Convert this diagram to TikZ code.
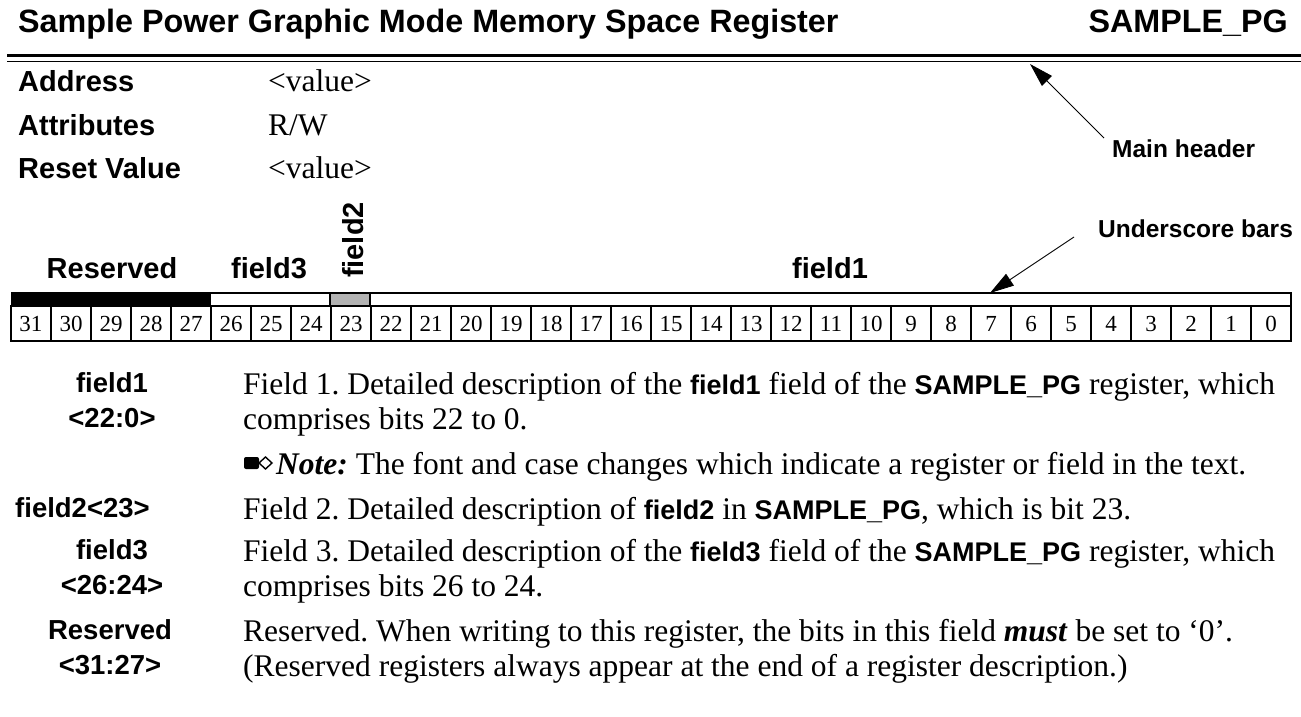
\documentclass[tikz,border=0pt]{standalone}
\usepackage{fontspec}
\setmainfont{Liberation Serif}
\setsansfont{Liberation Sans}
\usetikzlibrary{arrows.meta}
\newcommand{\sfb}[1]{{\fontsize{27}{30}\selectfont\sffamily\bfseries #1}}
\frenchspacing
\begin{document}
\begin{tikzpicture}[x=1pt,y=-1pt,
  title/.style={font=\fontsize{32.3}{36}\selectfont\sffamily\bfseries, inner sep=0pt},
  lab/.style={font=\fontsize{29}{32}\selectfont\sffamily\bfseries, inner sep=0pt},
  dlab/.style={font=\fontsize{27.5}{30}\selectfont\sffamily\bfseries, inner sep=0pt},
  clab/.style={font=\fontsize{24.5}{28}\selectfont\sffamily\bfseries, inner sep=0pt},
  body/.style={font=\fontsize{31.5}{35}\selectfont, inner sep=0pt, anchor=base west},
  bitnum/.style={font=\fontsize{23}{26}\selectfont, inner sep=0pt},
  cell/.style={draw=black, line width=1.2pt},
  callout/.style={line width=0.9pt, -{Triangle[length=24pt,width=14pt]}}]
\useasboundingbox (0,0) rectangle (1301,717);
% header
\node[title, anchor=base west] (ttl) at (18,33) {Sample Power Graphic Mode Memory Space Register};
\node[title, anchor=base east] (reg) at (1288,33) {SAMPLE\_PG};
\draw[line width=3pt] (7,56) -- (1301,56);
\draw[line width=1.6pt] (7,61.5) -- (1301,61.5);
\coordinate (mhtip) at (1030,64);
% attributes
\node[lab, anchor=base west] (addr) at (18,92) {Address};
\node[lab, anchor=base west] (attr) at (18,135) {Attributes};
\node[lab, anchor=base west] (rst) at (18,178) {Reset Value};
\node[body] (addrv) at (268,92) {<value>};
\node[body] (attrv) at (268,135) {R/W};
\node[body] (rstv) at (268,178) {<value>};
% callout labels
\node[clab, anchor=base west] (mh) at (1112,157) {Main header};
\node[clab, anchor=base west] (ub) at (1098,237) {Underscore bars};
\coordinate (mhs) at (1104,138);
\coordinate (ubs) at (1074,237);
\coordinate (ubtip) at (990,293);
\draw[callout] (mhs) -- (mhtip);
\draw[callout] (ubs) -- (ubtip);
% field labels
\node[lab, anchor=base] (lres) at (112,278) {Reserved};
\node[lab, anchor=base] (lf3) at (269,278) {field3};
\node[lab, rotate=90] (lf2) at (353,240) {field2};
\node[lab, anchor=base] (lf1) at (830,278) {field1};
% underscore bars
\fill[black] (11,293) rectangle (210,306);
\draw[cell] (210,293) rectangle (330,306);
\draw[cell, fill=black!30] (330,293) rectangle (370,306);
\draw[cell] (370,293) rectangle (1291,306);
\draw[cell] (11,293) -- (1291,293);
% bit cells
\foreach \i in {0,...,31} {
  \pgfmathtruncatemacro{\b}{31-\i}
  \draw[cell] (11+40*\i,306) rectangle (51+40*\i,341);
  \node[bitnum] (bit\b) at (31+40*\i,324) {\b};
}
% descriptions
\node[dlab] (d1a) at (112,383) {field1};
\node[dlab] (d1b) at (112,418) {<22:0>};
\node[body] (t1a) at (243,394) {Field 1. Detailed description of the \sfb{field1} field of the \sfb{SAMPLE\_PG} register, which};
\node[body] (t1b) at (243,429) {comprises bits 22 to 0.};
% note icon
\fill[black, rounded corners=2pt] (244,457) rectangle (259,469);
\draw[black, line width=1.4pt, fill=white] (259,463) -- (265.5,457) -- (272,463) -- (265.5,469) -- cycle;
\node[body] (tn) at (276,474) {\textbf{\textit{Note:}} The font and case changes which indicate a register or field in the text.};
\node[dlab, anchor=west] (d2) at (15,508) {field2<23>};
\node[body] (t2) at (243,519) {Field 2. Detailed description of \sfb{field2} in \sfb{SAMPLE\_PG}, which is bit 23.};
\node[dlab] (d3a) at (112,550) {field3};
\node[dlab] (d3b) at (112,585) {<26:24>};
\node[body] (t3a) at (243,561) {Field 3. Detailed description of the \sfb{field3} field of the \sfb{SAMPLE\_PG} register, which};
\node[body] (t3b) at (243,596) {comprises bits 26 to 24.};
\node[dlab] (d4a) at (110,630) {Reserved};
\node[dlab] (d4b) at (110,665) {<31:27>};
\node[body] (t4a) at (243,641) {Reserved. When writing to this register, the bits in this field \textbf{\textit{must}} be set to ‘0’.};
\node[body] (t4b) at (243,676) {(Reserved registers always appear at the end of a register description.)};
\end{tikzpicture}
\end{document}
